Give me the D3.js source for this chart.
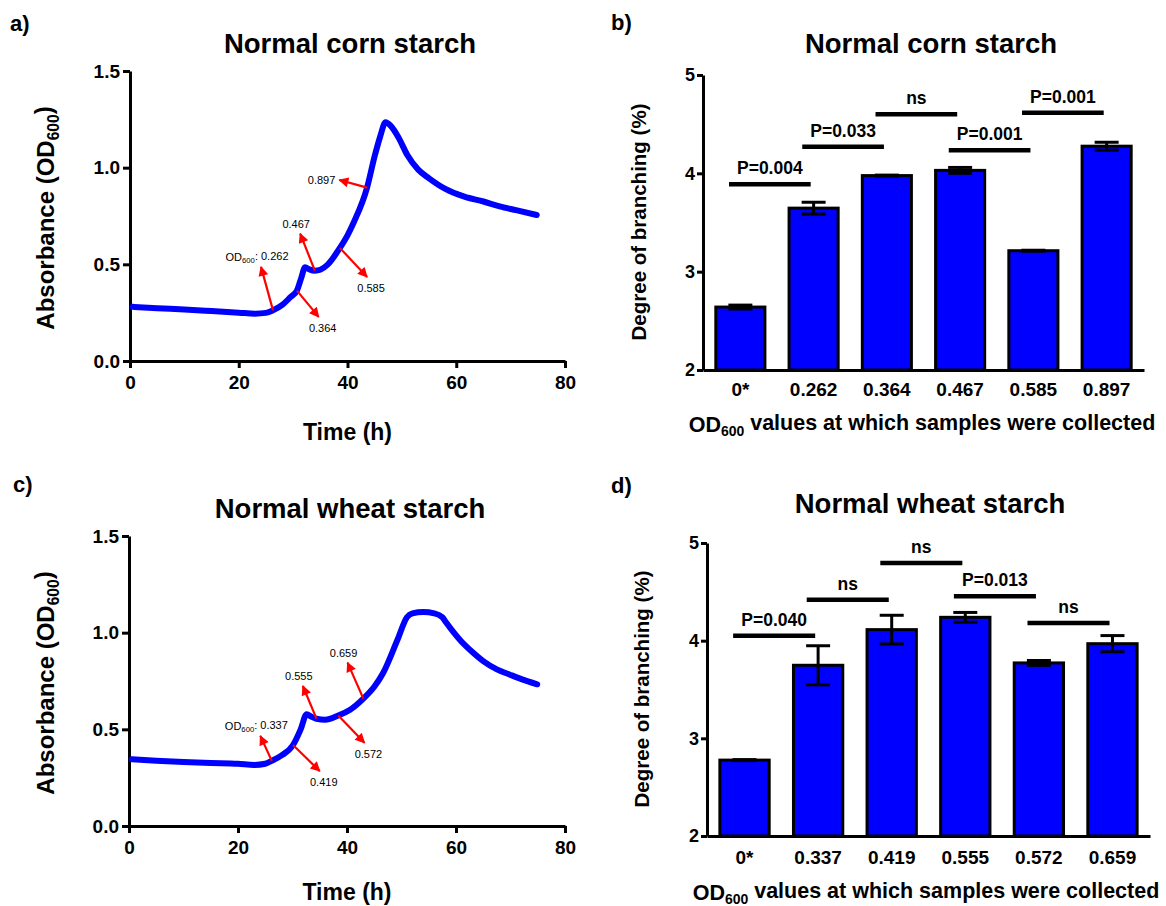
<!DOCTYPE html>
<html>
<head>
<meta charset="utf-8">
<script src="https://cdn.jsdelivr.net/npm/d3@7"></script>
<style>
  body { margin: 0; background: #fff; }
  svg { display: block; font-family: "Liberation Sans", Arial, Helvetica, sans-serif; }
  .bold { font-weight: bold; }
</style>
</head>
<body>
<div id="chart"></div>
<script>
// Growth curves (time in h, absorbance at 600 nm)
const cornTime = [0.5, 5, 10, 15, 20, 23, 25, 26.3, 28, 29.5, 30.7, 31.5, 32.2, 33, 34, 35, 36.3, 38.6, 40, 41.2, 43.6, 45, 46, 47, 48, 49.5, 51, 53, 55, 58, 61.5, 65, 68, 71, 74.8];
const cornOD = [0.28, 0.273, 0.266, 0.258, 0.25, 0.245, 0.249, 0.262, 0.29, 0.33, 0.364, 0.43, 0.485, 0.474, 0.467, 0.472, 0.497, 0.585, 0.65, 0.72, 0.897, 1.06, 1.16, 1.235, 1.215, 1.15, 1.065, 0.99, 0.945, 0.89, 0.85, 0.825, 0.8, 0.78, 0.755];

const wheatTime = [0.5, 5, 10, 15, 20, 23, 25, 26.2, 28, 30.1, 31.5, 32.6, 33.5, 34.4, 36, 38.4, 40.5, 43, 45, 46.6, 49.3, 51, 52, 54, 56, 57.5, 58.2, 60.9, 63, 65, 67.5, 69.8, 72, 74.9];
const wheatOD = [0.345, 0.338, 0.331, 0.326, 0.322, 0.316, 0.322, 0.337, 0.365, 0.419, 0.5, 0.578, 0.565, 0.555, 0.55, 0.572, 0.6, 0.659, 0.72, 0.79, 0.966, 1.08, 1.1, 1.107, 1.1, 1.08, 1.052, 0.957, 0.9, 0.853, 0.81, 0.784, 0.76, 0.733];

// Sampling points marked on the curves: time on curve, arrow tip (time, OD)
const cornMarks = [
  { label: "0.262", t: 26.3, tipT: 24.1, tipOD: 0.487, prefix: true },
  { label: "0.364", t: 30.7, tipT: 34.7, tipOD: 0.228 },
  { label: "0.467", t: 34, tipT: 31.3, tipOD: 0.659 },
  { label: "0.585", t: 38.6, tipT: 43.6, tipOD: 0.435 },
  { label: "0.897", t: 43.6, tipT: 38.5, tipOD: 0.936 }
];
const wheatMarks = [
  { label: "0.337", t: 26.2, tipT: 24.1, tipOD: 0.466, prefix: true },
  { label: "0.419", t: 30.1, tipT: 35.0, tipOD: 0.284 },
  { label: "0.555", t: 34.4, tipT: 31.9, tipOD: 0.724 },
  { label: "0.572", t: 38.4, tipT: 43.2, tipOD: 0.431 },
  { label: "0.659", t: 43, tipT: 40.1, tipOD: 0.845 }
];

// Degree of branching (%) with error
const cornSamples = ["0*", "0.262", "0.364", "0.467", "0.585", "0.897"];
const cornDB = [2.64, 3.646, 3.977, 4.03, 3.213, 4.276];
const cornErr = [0.02, 0.06, 0.005, 0.03, 0.005, 0.04];
const cornTests = [
  { from: 0, to: 1, y: 3.89, label: "P=0.004" },
  { from: 1, to: 2, y: 4.27, label: "P=0.033" },
  { from: 2, to: 3, y: 4.60, label: "ns" },
  { from: 3, to: 4, y: 4.235, label: "P=0.001" },
  { from: 4, to: 5, y: 4.615, label: "P=0.001" }
];

const wheatSamples = ["0*", "0.337", "0.419", "0.555", "0.572", "0.659"];
const wheatDB = [2.777, 3.748, 4.113, 4.239, 3.772, 3.969];
const wheatErr = [0.005, 0.2, 0.147, 0.05, 0.025, 0.083];
const wheatTests = [
  { from: 0, to: 1, y: 4.051, label: "P=0.040" },
  { from: 1, to: 2, y: 4.419, label: "ns" },
  { from: 2, to: 3, y: 4.795, label: "ns" },
  { from: 3, to: 4, y: 4.454, label: "P=0.013" },
  { from: 4, to: 5, y: 4.181, label: "ns" }
];

// Tick labels
const timeTicks = [0, 20, 40, 60, 80];
const odTicks = [0, 0.5, 1.0, 1.5];
const dbTicks = [2, 3, 4, 5];

const svg = d3.select("#chart").append("svg")
  .attr("width", 1166)
  .attr("height", 906);

const defs = svg.append("defs");
defs.append("marker")
  .attr("id", "arrowhead")
  .attr("viewBox", "0 0 10 10")
  .attr("refX", 9)
  .attr("refY", 5)
  .attr("markerWidth", 12)
  .attr("markerHeight", 10)
  .attr("markerUnits", "userSpaceOnUse")
  .attr("orient", "auto")
  .append("path")
  .attr("d", "M0,0 L10,5 L0,10 z")
  .attr("fill", "#ff0000");

function styleAxis(g, fontSize) {
  g.select(".domain").attr("stroke", "#000").attr("stroke-width", 3);
  g.selectAll(".tick line").attr("stroke", "#000").attr("stroke-width", 3);
  g.selectAll(".tick text")
    .attr("fill", "#000")
    .attr("font-size", fontSize)
    .attr("font-weight", "bold")
    .attr("font-family", "Liberation Sans, Arial, sans-serif");
}

// text with an OD600 style subscript
function addSub(text, before, sub, after, scale) {
  text.append("tspan").text(before);
  text.append("tspan").text(sub).attr("font-size", scale + "em").attr("dy", "0.3em");
  text.append("tspan").text(after).attr("dy", "-0.3em");
}

function panelLetter(x, y, letter) {
  svg.append("text").attr("class", "bold")
    .attr("x", x).attr("y", y)
    .attr("font-size", 22)
    .text(letter);
}

function drawGrowth(cfg) {
  const { times, ods, marks, frame } = cfg;
  const x = d3.scaleLinear().domain([0, 80]).range([frame.left, frame.right]);
  const y = d3.scaleLinear().domain([0, 1.5]).range([frame.bottom, frame.top]);

  panelLetter(cfg.letterX, cfg.letterY, cfg.letter);

  svg.append("text").attr("class", "bold")
    .attr("x", cfg.titleX).attr("y", frame.top - 18)
    .attr("text-anchor", "middle")
    .attr("font-size", 27.5)
    .text(cfg.title);

  const yAxis = svg.append("g")
    .attr("transform", `translate(${frame.left},0)`)
    .call(d3.axisLeft(y).tickValues(odTicks).tickFormat(d3.format(".1f")).tickSize(7).tickSizeOuter(0).tickPadding(3));
  styleAxis(yAxis, 19);

  const xAxis = svg.append("g")
    .attr("transform", `translate(0,${frame.bottom})`)
    .call(d3.axisBottom(x).tickValues(timeTicks).tickFormat(d3.format("d")).tickSize(7).tickSizeOuter(0).tickPadding(8));
  styleAxis(xAxis, 19);

  const yt = svg.append("text").attr("class", "bold")
    .attr("transform", `translate(${cfg.yTitleX},${(frame.top + frame.bottom) / 2 + 2}) rotate(-90)`)
    .attr("text-anchor", "middle")
    .attr("dy", "0.35em")
    .attr("font-size", 24);
  addSub(yt, "Absorbance (OD", "600", ")", 0.65);

  svg.append("text").attr("class", "bold")
    .attr("x", (frame.left + frame.right) / 2).attr("y", cfg.xTitleY)
    .attr("text-anchor", "middle")
    .attr("font-size", 23)
    .text("Time (h)");

  const pts = times.map((t, i) => [t, ods[i]]);
  const line = d3.line()
    .x(d => x(d[0]))
    .y(d => y(d[1]))
    .curve(d3.curveMonotoneX);

  svg.append("path")
    .datum(pts)
    .attr("d", line)
    .attr("fill", "none")
    .attr("stroke", "#0000ff")
    .attr("stroke-width", 6)
    .attr("stroke-linecap", "round")
    .attr("stroke-linejoin", "round");

  // arrows marking sampling points
  marks.forEach(m => {
    const i = times.indexOf(m.t);
    const px = x(m.t), py = y(ods[i]);
    const tx = x(m.tipT), ty = y(m.tipOD);
    svg.append("line")
      .attr("x1", px).attr("y1", py)
      .attr("x2", tx).attr("y2", ty)
      .attr("stroke", "#ff0000")
      .attr("stroke-width", 2.2)
      .attr("marker-end", "url(#arrowhead)");

    const dx = tx - px, dy = ty - py;
    const lab = svg.append("text")
      .attr("font-size", 11)
      .attr("fill", "#000");
    if (Math.abs(dx) > Math.abs(dy) * 1.5) {
      lab.attr("x", tx - 4).attr("y", ty + 4).attr("text-anchor", dx < 0 ? "end" : "start");
    } else if (dy < 0) {
      lab.attr("x", tx - 4).attr("y", ty - 6).attr("text-anchor", "middle");
    } else {
      lab.attr("x", tx + 4).attr("y", ty + 15).attr("text-anchor", "middle");
    }
    if (m.prefix) {
      addSub(lab, "OD", "600", ": " + m.label, 0.7);
    } else {
      lab.text(m.label);
    }
  });
}

function drawBars(cfg) {
  const { samples, values, errs, tests, frame } = cfg;
  const x = d3.scaleBand().domain(samples)
    .range([frame.left, frame.right])
    .paddingInner(0.33)
    .paddingOuter(0.175);
  const y = d3.scaleLinear().domain([2, 5]).range([frame.bottom, frame.top]);
  const bw = x.bandwidth();
  const step = x.step();

  panelLetter(cfg.letterX, cfg.letterY, cfg.letter);

  svg.append("text").attr("class", "bold")
    .attr("x", cfg.titleX).attr("y", cfg.titleY)
    .attr("text-anchor", "middle")
    .attr("font-size", 27.5)
    .text(cfg.title);

  const g = svg.append("g");

  g.selectAll("rect.bar")
    .data(samples)
    .enter()
    .append("rect")
    .attr("class", "bar")
    .attr("x", d => x(d))
    .attr("y", (d, i) => y(values[i]))
    .attr("width", bw)
    .attr("height", (d, i) => y(2) - y(values[i]))
    .attr("fill", "#0000ff")
    .attr("stroke", "#000")
    .attr("stroke-width", 3);

  // error bars
  samples.forEach((s, i) => {
    const cx = x(s) + bw / 2;
    const hi = y(values[i] + errs[i]), lo = y(values[i] - errs[i]);
    const eb = g.append("g").attr("stroke", "#000").attr("stroke-width", 3);
    eb.append("line").attr("x1", cx).attr("x2", cx).attr("y1", hi).attr("y2", lo);
    eb.append("line").attr("x1", cx - 12).attr("x2", cx + 12).attr("y1", hi).attr("y2", hi);
    eb.append("line").attr("x1", cx - 12).attr("x2", cx + 12).attr("y1", lo).attr("y2", lo);
  });

  const yAxis = svg.append("g")
    .attr("transform", `translate(${frame.left},0)`)
    .call(d3.axisLeft(y).tickValues(dbTicks).tickFormat(d3.format("d")).tickSize(6).tickSizeOuter(0).tickPadding(2));
  styleAxis(yAxis, 18);

  const xAxis = svg.append("g")
    .attr("transform", `translate(0,${frame.bottom})`)
    .call(d3.axisBottom(x).tickSize(0).tickSizeOuter(0).tickPadding(cfg.xPad));
  styleAxis(xAxis, 19);

  // significance bars
  tests.forEach(tst => {
    const x1 = x(samples[tst.from]) + bw / 2 - 0.155 * step;
    const x2 = x(samples[tst.to]) + bw / 2 - 0.04 * step;
    const ly = y(tst.y);
    svg.append("line")
      .attr("x1", x1).attr("x2", x2)
      .attr("y1", ly).attr("y2", ly)
      .attr("stroke", "#000")
      .attr("stroke-width", 4.5);
    svg.append("text").attr("class", "bold")
      .attr("x", (x1 + x2) / 2).attr("y", ly - 10)
      .attr("text-anchor", "middle")
      .attr("font-size", 17.5)
      .text(tst.label);
  });

  svg.append("text").attr("class", "bold")
    .attr("transform", `translate(${cfg.yTitleX},${cfg.yTitleY}) rotate(-90)`)
    .attr("text-anchor", "middle")
    .attr("dy", "0.35em")
    .attr("font-size", 20.5)
    .text("Degree of branching (%)");

  const xt = svg.append("text").attr("class", "bold")
    .attr("x", cfg.xTitleX).attr("y", cfg.xTitleY)
    .attr("text-anchor", "middle")
    .attr("font-size", 21.5);
  addSub(xt, "OD", "600", " values at which samples were collected", 0.65);
}

drawGrowth({
  times: cornTime, ods: cornOD, marks: cornMarks,
  frame: { left: 130, right: 565, top: 71, bottom: 361 },
  title: "Normal corn starch", titleX: 350,
  letter: "a)", letterX: 10, letterY: 31,
  yTitleX: 46, xTitleY: 440
});

drawGrowth({
  times: wheatTime, ods: wheatOD, marks: wheatMarks,
  frame: { left: 129, right: 565, top: 536, bottom: 826 },
  title: "Normal wheat starch", titleX: 350,
  letter: "c)", letterX: 13, letterY: 492,
  yTitleX: 46, xTitleY: 900
});

drawBars({
  samples: cornSamples, values: cornDB, errs: cornErr, tests: cornTests,
  frame: { left: 703, right: 1144, top: 75, bottom: 370 },
  title: "Normal corn starch", titleX: 931, titleY: 53,
  letter: "b)", letterX: 611, letterY: 30,
  yTitleX: 639, yTitleY: 222,
  xPad: 13, xTitleX: 922, xTitleY: 432
});

drawBars({
  samples: wheatSamples, values: wheatDB, errs: wheatErr, tests: wheatTests,
  frame: { left: 707, right: 1150, top: 543, bottom: 836 },
  title: "Normal wheat starch", titleX: 930, titleY: 513,
  letter: "d)", letterX: 611, letterY: 493,
  yTitleX: 642, yTitleY: 689,
  xPad: 15, xTitleX: 926, xTitleY: 900
});
</script>
</body>
</html>
